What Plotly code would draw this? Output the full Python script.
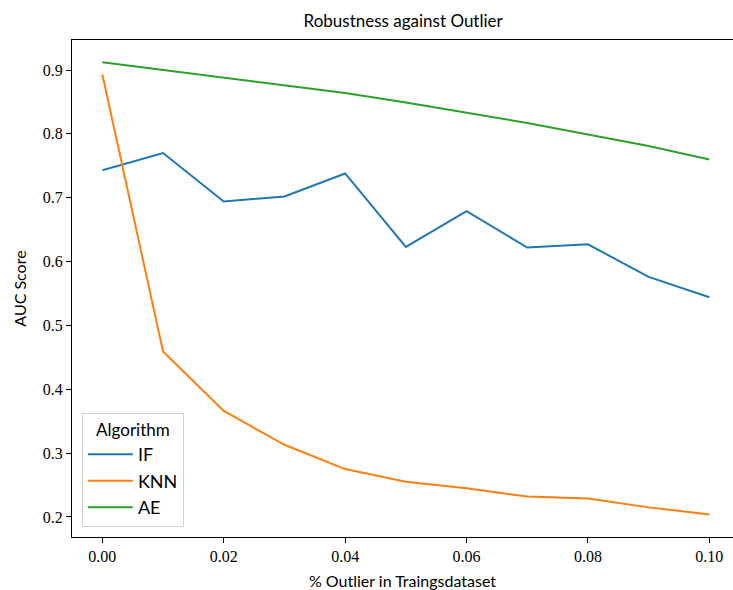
import plotly.graph_objects as go

outlier_share = [0.00, 0.01, 0.02, 0.03, 0.04, 0.05, 0.06, 0.07, 0.08, 0.09, 0.10]
auc_if = [0.743, 0.770, 0.694, 0.702, 0.738, 0.623, 0.679, 0.622, 0.627, 0.576, 0.544]
auc_knn = [0.893, 0.459, 0.366, 0.313, 0.275, 0.255, 0.245, 0.232, 0.229, 0.215, 0.204]
auc_ae = [0.912, 0.900, 0.887, 0.876, 0.864, 0.849, 0.833, 0.817, 0.799, 0.781, 0.760]
series_names = ["IF", "KNN", "AE"]
x_ticks = [0.00, 0.02, 0.04, 0.06, 0.08, 0.10]
y_ticks = [0.2, 0.3, 0.4, 0.5, 0.6, 0.7, 0.8, 0.9]

colors = ["#1f77b4", "#ff7f0e", "#2ca02c"]
sans = "Lato"
serif = "Liberation Serif, DejaVu Serif, serif"

fig = go.Figure()
for name, vals, c in zip(series_names, [auc_if, auc_knn, auc_ae], colors):
    fig.add_trace(go.Scatter(x=outlier_share, y=vals, mode="lines", name=name,
                             line=dict(color=c, width=2)))

fig.update_layout(
    width=733, height=590,
    margin=dict(l=72, r=0, t=40, b=53),
    paper_bgcolor="white", plot_bgcolor="white",
    title=dict(text="Robustness against Outlier", x=0.55, xanchor="center",
               y=1 - 21 / 590, yanchor="middle",
               font=dict(family=sans, size=17, color="black")),
    legend=dict(title=dict(text="Algorithm", side="top center",
                           font=dict(family=sans, size=17, color="black")),
                font=dict(family=sans, size=18, color="black"),
                x=0.015, y=0.02, xanchor="left", yanchor="bottom",
                bgcolor="rgba(255,255,255,0.8)", bordercolor="#d0d0d0", borderwidth=1,
                itemwidth=45, tracegroupgap=0),
    showlegend=True,
)
fig.update_xaxes(range=[-0.005, 0.1039], tickvals=x_ticks,
                 ticktext=[f"{v:.2f}" for v in x_ticks],
                 tickfont=dict(family=serif, size=16, color="black"),
                 ticks="outside", ticklen=5, tickwidth=1.2, tickcolor="black",
                 showline=True, linecolor="black", linewidth=1.3, mirror=True,
                 showgrid=False, zeroline=False,
                 title=dict(text="% Outlier in Traingsdataset", standoff=14,
                            font=dict(family=sans, size=16, color="black")))
fig.update_yaxes(range=[0.1686, 0.947], tickvals=y_ticks,
                 ticktext=[f"{v:.1f}" for v in y_ticks],
                 tickfont=dict(family=serif, size=16, color="black"),
                 ticks="outside", ticklen=5, tickwidth=1.2, tickcolor="black",
                 showline=True, linecolor="black", linewidth=1.3, mirror=False,
                 showgrid=False, zeroline=False,
                 title=dict(text="AUC Score", standoff=12,
                            font=dict(family=sans, size=16, color="black")))

fig.write_html("out.html")
